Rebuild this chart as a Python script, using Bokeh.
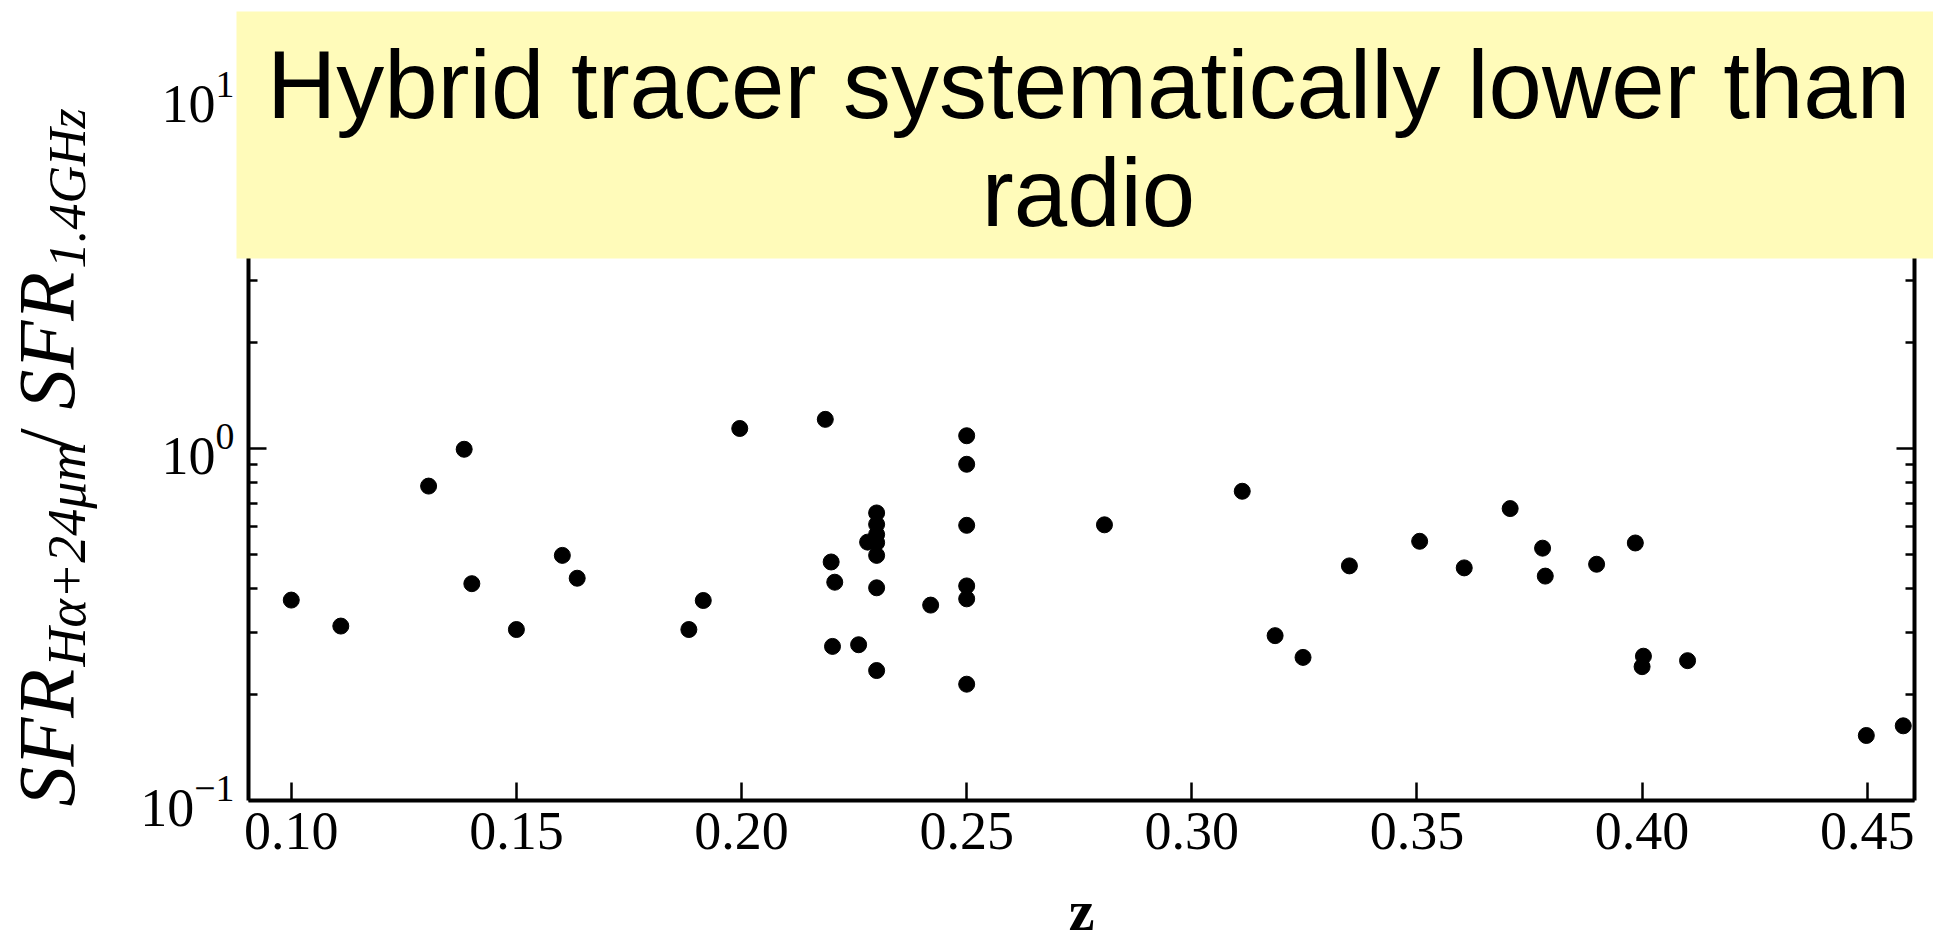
import math
from bokeh.plotting import figure
from bokeh.models import (LogAxis, FixedTicker, Range1d, Label,
                          BoxAnnotation, PrintfTickFormatter, CustomJSTickFormatter)
from bokeh.embed import file_html
from bokeh.resources import INLINE

# ---- data ----
z = [0.100, 0.111, 0.1305, 0.1384, 0.1401, 0.150, 0.1602, 0.1635, 0.1883, 0.1915,
     0.1996, 0.2186, 0.2199, 0.2207, 0.2202, 0.2260, 0.228, 0.230, 0.230, 0.230,
     0.230, 0.230, 0.230, 0.230, 0.2420, 0.250, 0.250, 0.250, 0.250, 0.250,
     0.250, 0.2806, 0.3112, 0.3185, 0.3247, 0.3350, 0.3506, 0.3605, 0.3707, 0.3779,
     0.3785, 0.3899, 0.3985, 0.4003, 0.4000, 0.4101, 0.4498, 0.4580]
ratio = [0.371, 0.313, 0.782, 0.995, 0.413, 0.306, 0.497, 0.428, 0.306, 0.370,
         1.14, 1.21, 0.476, 0.417, 0.274, 0.277, 0.542, 0.656, 0.609, 0.570,
         0.540, 0.497, 0.402, 0.234, 0.359, 1.087, 0.902, 0.605, 0.407, 0.374,
         0.214, 0.607, 0.756, 0.294, 0.255, 0.464, 0.545, 0.458, 0.675, 0.521,
         0.434, 0.469, 0.539, 0.257, 0.240, 0.2496, 0.153, 0.163]
x_ticks = [0.10, 0.15, 0.20, 0.25, 0.30, 0.35, 0.40, 0.45]
y_major = [0.1, 1.0, 10.0]
y_minor = [0.2, 0.3, 0.4, 0.5, 0.6, 0.7, 0.8, 0.9, 2, 3, 4, 5, 6, 7, 8, 9]
title_lines = ["Hybrid tracer systematically lower than", "radio"]
x_label = "z"

# ---- layout (pixels) ----
W, H = 1933, 945
L, R, T, B = 248, 1914, 96, 800          # axes box in the page
X0, X1 = 0.0905, 0.4605                  # x limits of the axes box
LY0, LY1 = -1.0, 1.0                     # log10 y limits of the axes box

def px2x(px):
    return X0 + (px - L) / (R - L) * (X1 - X0)

def py2y(py):
    return 10 ** (LY1 - (py - T) / (B - T) * (LY1 - LY0))

# the frame covers the whole page; axes are placed at the box edges
p = figure(width=W, height=H, output_backend="svg", toolbar_location=None,
           y_axis_type="log",
           x_range=Range1d(px2x(0), px2x(W)), y_range=Range1d(py2y(H), py2y(0)),
           min_border=0, min_border_left=0, min_border_right=0,
           min_border_top=0, min_border_bottom=0,
           background_fill_color="white", border_fill_color="white",
           outline_line_color=None)
p.grid.visible = False

p.scatter(z, ratio, size=16, color="black", line_color="black")

SERIF = "Liberation Serif"
blank = CustomJSTickFormatter(code="return ''")

def style_axis(ax, labels=True):
    ax.axis_line_width = 4
    ax.axis_line_color = "black"
    ax.major_tick_in = 18
    ax.major_tick_out = 0
    ax.major_tick_line_width = 2.5
    ax.minor_tick_line_width = 2.5
    ax.major_tick_line_color = "black"
    ax.minor_tick_line_color = "black"
    ax.major_label_text_font = SERIF
    ax.major_label_text_color = "black"
    ax.major_label_text_font_size = "54px"
    if not labels:
        ax.formatter = blank
        ax.major_label_standoff = 0

# bottom axis
xa = p.xaxis[0]
xa.ticker = FixedTicker(ticks=x_ticks)
xa.formatter = PrintfTickFormatter(format="%.2f")
style_axis(xa)
xa.minor_tick_in = 0
xa.minor_tick_out = 0
xa.major_label_standoff = 12
xa.fixed_location = 10 ** LY0
xa.bounds = (X0, X1)

# left axis
ya = p.yaxis[0]
ya.ticker = FixedTicker(ticks=y_major, minor_ticks=y_minor)
style_axis(ya)
ya.minor_tick_in = 9
ya.minor_tick_out = 0
ya.major_label_standoff = 14
ya.fixed_location = X0
ya.bounds = (10 ** LY0, 10 ** LY1)

# right axis (ticks only)
yr = LogAxis(ticker=FixedTicker(ticks=y_major, minor_ticks=y_minor))
style_axis(yr, labels=False)
yr.minor_tick_in = 9
yr.minor_tick_out = 0
yr.fixed_location = X1
yr.bounds = (10 ** LY0, 10 ** LY1)
p.add_layout(yr, "right")

# y-axis label composed as math-like text (rotated); positions are text centres
def rl(text, px_base, py_start, size_px, style="italic"):
    cx = px_base - 0.34 * size_px
    return Label(x=px2x(cx), y=py2y(py_start), text=text,
                 angle=math.pi / 2, text_align="left", text_baseline="middle",
                 text_font=SERIF, text_font_size=f"{size_px}px",
                 text_font_style=style, text_color="black")

for lab in [rl("SFR", 74, 806, 80),
            rl("H\u03b1+24\u03bcm", 85, 666, 54),
            rl("/", 74, 450, 80, "normal"),
            rl("SFR", 74, 409, 80),
            rl("1.4GHz", 85, 268, 52)]:
    p.add_layout(lab)

# x label
p.add_layout(Label(x=px2x((L + R) / 2), y=py2y(930 - 0.34 * 58), text=x_label,
                   text_align="center", text_baseline="middle",
                   text_font=SERIF, text_font_size="58px", text_font_style="bold",
                   text_color="black"))

# yellow callout box with title, above the axes
p.add_layout(BoxAnnotation(left=px2x(236), right=px2x(W + 10), top=py2y(11), bottom=py2y(258),
                           fill_color="#FFFBBA", fill_alpha=1.0, line_color=None,
                           level="overlay"))
for text, base in zip(title_lines, [117, 225]):
    p.add_layout(Label(x=px2x(1088), y=py2y(base - 0.34 * 96), text=text,
                       text_align="center", text_baseline="middle",
                       text_font="Liberation Sans", text_font_size="96px",
                       text_color="black", level="overlay"))

open("out.html", "w").write(file_html(p, INLINE))
